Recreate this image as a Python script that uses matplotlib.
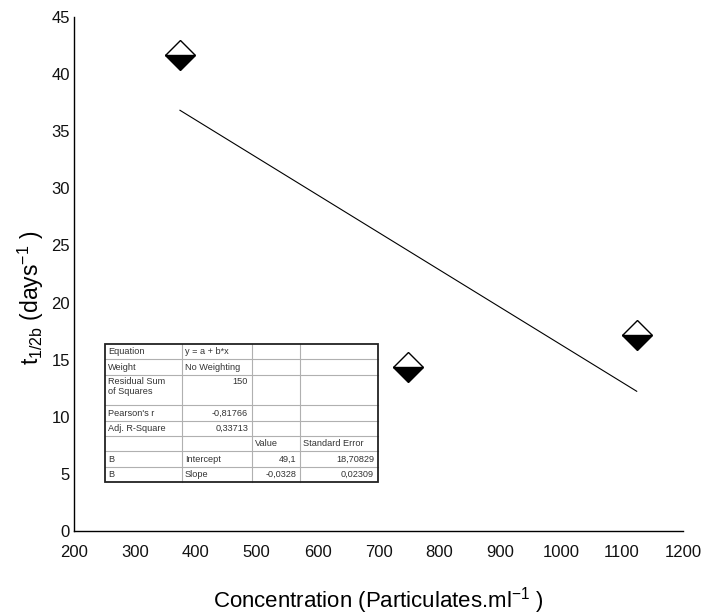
import matplotlib
matplotlib.use("Agg")
import matplotlib.pyplot as plt
from matplotlib.patches import Rectangle
import numpy as np

plt.rcParams['font.family'] = ['Liberation Sans', 'DejaVu Sans']
plt.rcParams['mathtext.fontset'] = 'custom'
plt.rcParams['mathtext.rm'] = 'Liberation Sans'
plt.rcParams['mathtext.it'] = 'Liberation Sans'

# Data
conc = [374, 748, 1124]
t_half = [41.7, 14.4, 17.2]
intercept = 49.1
slope = -0.0328

x_ticks = [200, 300, 400, 500, 600, 700, 800, 900, 1000, 1100, 1200]
y_ticks = [0, 5, 10, 15, 20, 25, 30, 35, 40, 45]

table_rows = [
    ["Equation", "y = a + b*x", "", ""],
    ["Weight", "No Weighting", "", ""],
    ["Residual Sum\nof Squares", "150", "", ""],
    ["Pearson's r", "-0,81766", "", ""],
    ["Adj. R-Square", "0,33713", "", ""],
    ["", "", "Value", "Standard Error"],
    ["B", "Intercept", "49,1", "18,70829"],
    ["B", "Slope", "-0,0328", "0,02309"],
]
row_units = [1, 1, 2, 1, 1, 1, 1, 1]
# alignment per cell: 'l' left, 'r' right
table_align = [
    ["l", "l", "l", "l"],
    ["l", "l", "l", "l"],
    ["l", "r", "l", "l"],
    ["l", "r", "l", "l"],
    ["l", "r", "l", "l"],
    ["l", "l", "l", "l"],
    ["l", "l", "r", "r"],
    ["l", "l", "r", "r"],
]

W, H = 705, 616
fig = plt.figure(figsize=(W / 100, H / 100), dpi=100)
ax_l, ax_r, ax_t, ax_b = 74, 683, 17, 531
ax = fig.add_axes([ax_l / W, 1 - ax_b / H, (ax_r - ax_l) / W, (ax_b - ax_t) / H])

# fit line
xf = np.array([min(conc), max(conc)])
ax.plot(xf, intercept + slope * xf, color='black', lw=0.8, zorder=2)

# markers
ax.plot(conc, t_half, linestyle='none', marker='D', markersize=15.5,
        fillstyle='bottom', markerfacecolor='black', markerfacecoloralt='white',
        markeredgecolor='black', markeredgewidth=1.0, zorder=3, clip_on=False)

ax.set_xlim(200, 1200)
ax.set_ylim(0, 45)
ax.set_xticks(x_ticks)
ax.set_yticks(y_ticks)
ax.tick_params(length=0, labelsize=12, pad=3, labelcolor='#111111')
ax.tick_params(axis='x', pad=10)
for s in ['top', 'right']:
    ax.spines[s].set_visible(False)
for s in ['left', 'bottom']:
    ax.spines[s].set_linewidth(1.0)

ax.set_xlabel(r'Concentration (Particulates.ml$^{\mathregular{-1}}$ )', fontsize=16, labelpad=18)
ax.set_ylabel(r'$\mathregular{t_{1/2b}}$ (days$^{\mathregular{-1}}$ )', fontsize=16.5)
ax.yaxis.set_label_coords(-0.046, 0.453)

# Table drawn manually in figure pixel coords
tl, tr, tt, tb = 105, 378, 344, 482
col_edges = [105, 182, 252, 300, 378]
total_units = sum(row_units)
unit_h = (tb - tt) / total_units

def fx(px):
    return px / W

def fy(py):
    return 1 - py / H

# white background
fig.add_artist(Rectangle((fx(tl), fy(tb)), fx(tr) - fx(tl), fy(tt) - fy(tb),
                         transform=fig.transFigure, facecolor='white',
                         edgecolor='none', zorder=4))
# inner lines
y_edges = [tt]
for u in row_units:
    y_edges.append(y_edges[-1] + u * unit_h)
for ye in y_edges[1:-1]:
    fig.add_artist(plt.Line2D([fx(tl), fx(tr)], [fy(ye), fy(ye)],
                              transform=fig.transFigure, color='#b0b0b0', lw=0.8, zorder=5))
for xe in col_edges[1:-1]:
    fig.add_artist(plt.Line2D([fx(xe), fx(xe)], [fy(tt), fy(tb)],
                              transform=fig.transFigure, color='#b0b0b0', lw=0.8, zorder=5))
fig.add_artist(Rectangle((fx(tl), fy(tb)), fx(tr) - fx(tl), fy(tt) - fy(tb),
                         transform=fig.transFigure, facecolor='none',
                         edgecolor='#222222', lw=1.3, zorder=6))

for i, row in enumerate(table_rows):
    y0 = y_edges[i]
    for j, txt in enumerate(row):
        if not txt:
            continue
        al = table_align[i][j]
        if row_units[i] > 1:
            yc = y0 + 2
            va = 'top'
        else:
            yc = y0 + unit_h / 2
            va = 'center'
        if al == 'l':
            xp = col_edges[j] + 3
            ha = 'left'
        else:
            xp = col_edges[j + 1] - 4
            ha = 'right'
        fig.text(fx(xp), fy(yc), txt, ha=ha, va=va, fontsize=6.6,
                 color='#333333', zorder=7, linespacing=1.25)

fig.savefig('out.png', dpi=100, facecolor='white')
